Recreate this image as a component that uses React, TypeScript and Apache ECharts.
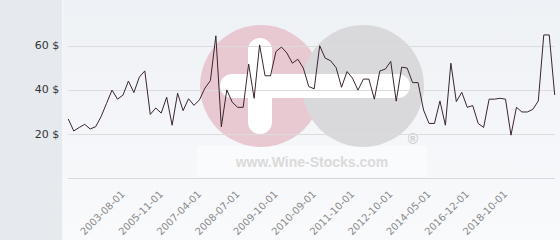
import React, { useEffect, useRef } from "react";
import * as echarts from "echarts";

const values: number[] = [
  26.8, 21.4, 23.0, 24.4, 22.3, 23.3, 27.9, 33.9, 39.9, 35.8,
  37.6, 44.0, 38.8, 45.8, 48.6, 28.9, 31.8, 29.5, 36.7, 24.0,
  38.5, 30.6, 36.0, 33.0, 35.5, 40.8, 44.2, 64.5, 23.3, 40.0,
  34.4, 32.1, 32.1, 51.7, 36.2, 60.4, 46.4, 46.4, 57.4, 59.4,
  56.7, 52.1, 53.9, 49.9, 41.5, 40.5, 60.0, 54.4, 53.2, 50.1,
  41.2, 48.3, 45.3, 39.9, 44.9, 44.9, 35.8, 48.6, 49.4, 52.9,
  34.9, 50.3, 49.9, 43.3, 43.3, 30.9, 24.8, 24.8, 35.0, 24.0,
  52.1, 34.7, 38.9, 32.1, 32.9, 24.8, 23.0, 35.8, 35.8, 36.2,
  35.8, 19.5, 32.1, 30.0, 30.0, 31.2, 35.0, 64.9, 64.9, 37.7,
];

const tickLabels: string[] = [
  "2003-08-01", "2005-11-01", "2007-04-01", "2008-07-01", "2009-10-01",
  "2010-09-01", "2011-10-01", "2012-10-01", "2014-05-01", "2016-12-01",
  "2018-10-01",
];
const tickIndices: number[] = [10, 17, 24, 31, 38, 45, 52, 59, 66, 73, 80];
const yTickValues: number[] = [20, 40, 60];
const yMax = 80;

const categories: string[] = values.map((_, i) => {
  const k = tickIndices.indexOf(i);
  return k >= 0 ? tickLabels[k] : "#" + i;
});

export default function App() {
  const ref = useRef<HTMLDivElement>(null);
  useEffect(() => {
    if (!ref.current) return;
    const chart = echarts.init(ref.current, null, { renderer: "svg" });
    const font = "'DejaVu Sans', sans-serif";
    chart.setOption({
      animation: false,
      backgroundColor: {
        type: "linear", x: 0, y: 0, x2: 0, y2: 1,
        colorStops: [
          { offset: 0, color: "#eef1f5" },
          { offset: 1, color: "#f9fafc" },
        ],
      },
      graphic: [
        {
          type: "group",
          z: -5,
          silent: true,
          children: [
            { type: "rect", shape: { x: 0, y: 0, width: 62, height: 240 }, style: { fill: "#e6eaee" } },
            { type: "rect", shape: { x: 62, y: 0, width: 1, height: 240 }, style: { fill: "#f4f6f8" } },
            { type: "rect", shape: { x: 197, y: 146, width: 230, height: 31 }, style: { fill: "#ffffff", opacity: 0.45 } },
            { type: "circle", shape: { cx: 261, cy: 86, r: 61 }, style: { fill: "#e8c9d2" } },
            { type: "circle", shape: { cx: 363, cy: 86, r: 61 }, style: { fill: "#d9d9db" } },
            { type: "rect", shape: { x: 248, y: 38, width: 24, height: 96, r: 12 }, style: { fill: "#ffffff" } },
            { type: "rect", shape: { x: 220, y: 74, width: 190, height: 24, r: 12 }, style: { fill: "#ffffff" } },
            {
              type: "text", x: 312, y: 162,
              style: {
                text: "www.Wine-Stocks.com", fill: "#dadada",
                font: "bold 14px 'Liberation Sans', Arial, sans-serif",
                align: "center", verticalAlign: "middle",
              },
            },
            {
              type: "text", x: 413, y: 139,
              style: {
                text: "®", fill: "#cfcfcf",
                font: "bold 14px 'Liberation Sans', Arial, sans-serif",
                align: "center", verticalAlign: "middle",
              },
            },
          ],
        },
      ],
      grid: { left: 68.3, right: 5.3, top: 1.6, bottom: 61.8, containLabel: false },
      xAxis: {
        type: "category",
        data: categories,
        boundaryGap: false,
        axisLine: { show: true, lineStyle: { color: "#d6d9dd", width: 1 } },
        axisTick: { show: false },
        splitLine: { show: false },
        axisLabel: {
          interval: (index: number) => tickIndices.indexOf(index) >= 0,
          formatter: (v: string) => (v.charAt(0) === "#" ? "" : v),
          rotate: 45,
          margin: 14,
          color: "#8a8a8a",
          fontSize: 10,
          fontFamily: font,
        },
      },
      yAxis: {
        type: "value",
        min: 0,
        max: yMax,
        interval: 20,
        axisLine: { show: false },
        axisTick: { show: false },
        axisLabel: {
          margin: 9,
          color: "#333333",
          fontSize: 11,
          fontFamily: font,
          formatter: (v: number) => (yTickValues.indexOf(v) >= 0 ? v + " $" : ""),
        },
        splitLine: {
          show: true,
          lineStyle: {
            color: ["rgba(0,0,0,0)", "#dcdcdc", "#dcdcdc", "#dcdcdc", "rgba(0,0,0,0)"],
            width: 1,
          },
        },
      },
      series: [
        {
          type: "line",
          data: values,
          symbol: "none",
          lineStyle: { color: "#3b2430", width: 1 },
          z: 3,
        },
      ],
    });
    return () => chart.dispose();
  }, []);
  return (
    <div
      ref={ref}
      style={{ position: "absolute", left: 0, top: 0, width: 560, height: 240 }}
    />
  );
}
